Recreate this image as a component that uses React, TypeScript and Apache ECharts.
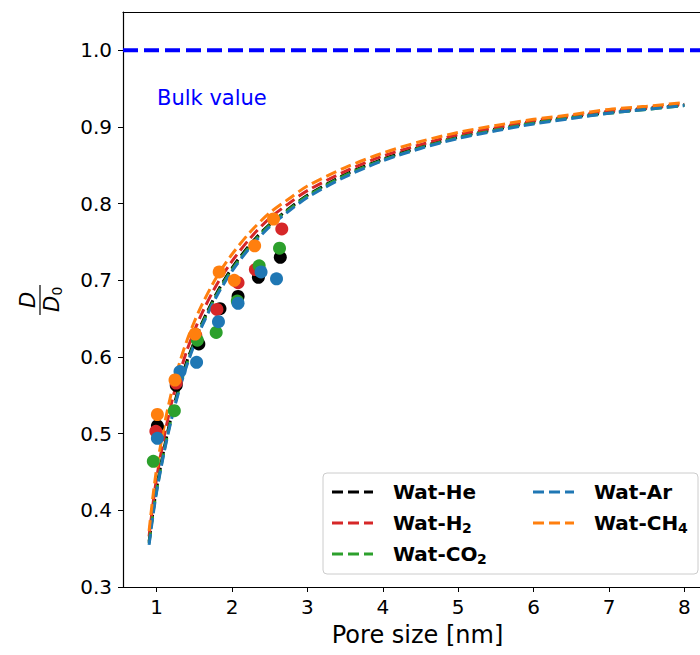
import React, { useEffect, useRef } from "react";
import * as echarts from "echarts";

// Pore size grid for the model curves [nm]
const poreSize = [0.9, 0.95, 1.0, 1.1, 1.2, 1.3, 1.4, 1.5, 1.6, 1.8, 2.0, 2.25, 2.5, 2.75, 3.0, 3.5, 4.0, 4.5, 5.0, 5.5, 6.0, 6.5, 7.0, 7.5, 8.0];

// Model curves D/D0
const curveHe = [0.359, 0.397, 0.429, 0.481, 0.525, 0.562, 0.594, 0.620, 0.644, 0.684, 0.716, 0.748, 0.773, 0.793, 0.811, 0.838, 0.858, 0.874, 0.887, 0.897, 0.906, 0.913, 0.919, 0.924, 0.929];
const curveH2 = [0.366, 0.407, 0.442, 0.496, 0.541, 0.577, 0.608, 0.634, 0.657, 0.695, 0.725, 0.756, 0.781, 0.800, 0.817, 0.842, 0.862, 0.877, 0.890, 0.899, 0.908, 0.914, 0.921, 0.925, 0.930];
const curveCO2 = [0.357, 0.395, 0.426, 0.478, 0.522, 0.559, 0.591, 0.618, 0.642, 0.682, 0.714, 0.746, 0.772, 0.792, 0.810, 0.837, 0.857, 0.873, 0.886, 0.896, 0.905, 0.912, 0.918, 0.923, 0.928];
const curveAr = [0.355, 0.392, 0.424, 0.476, 0.520, 0.557, 0.589, 0.616, 0.640, 0.680, 0.712, 0.744, 0.770, 0.790, 0.808, 0.835, 0.856, 0.872, 0.885, 0.895, 0.904, 0.911, 0.918, 0.923, 0.928];
const curveCH4 = [0.373, 0.417, 0.454, 0.510, 0.555, 0.591, 0.621, 0.646, 0.668, 0.705, 0.734, 0.764, 0.788, 0.806, 0.823, 0.847, 0.866, 0.881, 0.893, 0.902, 0.910, 0.916, 0.923, 0.927, 0.932];

// Simulation points
const ptHeX = [1.01, 1.26, 1.56, 1.84, 2.08, 2.35, 2.64];
const ptHeY = [0.510, 0.563, 0.617, 0.663, 0.679, 0.704, 0.730];
const ptH2X = [0.99, 1.26, 1.52, 1.80, 2.08, 2.31, 2.66];
const ptH2Y = [0.503, 0.566, 0.628, 0.662, 0.697, 0.714, 0.767];
const ptCO2X = [0.956, 1.235, 1.54, 1.79, 2.07, 2.36, 2.63];
const ptCO2Y = [0.464, 0.530, 0.622, 0.632, 0.673, 0.719, 0.742];
const ptArX = [1.01, 1.31, 1.53, 1.82, 2.08, 2.385, 2.59];
const ptArY = [0.494, 0.581, 0.593, 0.646, 0.670, 0.711, 0.702];
const ptCH4X = [1.01, 1.244, 1.51, 1.83, 2.03, 2.30, 2.55];
const ptCH4Y = [0.525, 0.570, 0.630, 0.711, 0.700, 0.745, 0.780];

const bulkValue = 1.0;
const xTicks = [1, 2, 3, 4, 5, 6, 7, 8];
const yTicks = [0.3, 0.4, 0.5, 0.6, 0.7, 0.8, 0.9, 1.0];
const X_MIN = 0.554;
const X_MAX = 8.207;

const FONT = "DejaVu Sans";

export default function App() {
  const ref = useRef<HTMLDivElement>(null);
  useEffect(() => {
    if (!ref.current) return;
    const chart = echarts.init(ref.current, undefined, { renderer: "svg" });
    const gases = [
      { name: "Wat-He", color: "#000000", curve: curveHe, px: ptHeX, py: ptHeY },
      { name: "Wat-H2", color: "#d62728", curve: curveH2, px: ptH2X, py: ptH2Y },
      { name: "Wat-CO2", color: "#2ca02c", curve: curveCO2, px: ptCO2X, py: ptCO2Y },
      { name: "Wat-Ar", color: "#1f77b4", curve: curveAr, px: ptArX, py: ptArY },
      { name: "Wat-CH4", color: "#ff7f0e", curve: curveCH4, px: ptCH4X, py: ptCH4Y },
    ];
    const lineSeries = gases.map((g) => ({
      type: "line",
      name: g.name,
      data: poreSize.map((x, i) => [x, g.curve[i]]),
      showSymbol: false,
      smooth: 0.3,
      lineStyle: { color: g.color, width: 3, type: [11, 5] },
      z: 2,
    }));
    const dotSeries = gases.map((g) => ({
      type: "scatter",
      name: g.name + " pts",
      data: g.px.map((x, i) => [x, g.py[i]]),
      symbolSize: 13,
      itemStyle: { color: g.color, opacity: 1 },
      z: 3,
    }));

    const legendRows = [
      { x: 332, y: 492, color: "#000000", main: "Wat-He", sub: "", subX: 0 },
      { x: 332, y: 523, color: "#d62728", main: "Wat-H", sub: "2", subX: 69 },
      { x: 332, y: 554, color: "#2ca02c", main: "Wat-CO", sub: "2", subX: 84 },
      { x: 533, y: 492, color: "#1f77b4", main: "Wat-Ar", sub: "", subX: 0 },
      { x: 533, y: 523, color: "#ff7f0e", main: "Wat-CH", sub: "4", subX: 84 },
    ];
    const legendEls: any[] = [
      {
        type: "rect",
        shape: { x: 323, y: 473, width: 375, height: 101, r: 4 },
        style: { fill: "rgba(255,255,255,0.85)", stroke: "#cccccc", lineWidth: 1 },
        z: 10,
      },
    ];
    legendRows.forEach((r) => {
      legendEls.push({
        type: "line",
        shape: { x1: r.x, y1: r.y, x2: r.x + 41, y2: r.y },
        style: { stroke: r.color, lineWidth: 3, lineDash: [11, 5] },
        z: 11,
      });
      legendEls.push({
        type: "text",
        x: r.x + 61,
        y: r.y,
        style: {
          text: r.main,
          fontFamily: FONT,
          fontWeight: "bold",
          fontSize: 20,
          fill: "#000",
          align: "left",
          verticalAlign: "middle",
        },
        z: 11,
      });
      if (r.sub) {
        legendEls.push({
          type: "text",
          x: r.x + 61 + r.subX,
          y: r.y + 5,
          style: {
            text: r.sub,
            fontFamily: FONT,
            fontWeight: "bold",
            fontSize: 14,
            fill: "#000",
            align: "left",
            verticalAlign: "middle",
          },
          z: 11,
        });
      }
    });

    const yLabel = {
      type: "group",
      x: 40,
      y: 300,
      rotation: Math.PI / 2,
      children: [
        {
          type: "text",
          x: 0,
          y: -12,
          style: { text: "D", fontFamily: FONT, fontStyle: "italic", fontSize: 21, fill: "#000", align: "center", verticalAlign: "middle" },
        },
        {
          type: "line",
          shape: { x1: -15, y1: 0, x2: 15, y2: 0 },
          style: { stroke: "#000", lineWidth: 1.2 },
        },
        {
          type: "text",
          x: -4,
          y: 12,
          style: { text: "D", fontFamily: FONT, fontStyle: "italic", fontSize: 21, fill: "#000", align: "center", verticalAlign: "middle" },
        },
        {
          type: "text",
          x: 9,
          y: 17,
          style: { text: "0", fontFamily: FONT, fontSize: 14, fill: "#000", align: "center", verticalAlign: "middle" },
        },
      ],
    };

    chart.setOption({
      animation: false,
      backgroundColor: "#ffffff",
      grid: {
        left: 123,
        top: 12,
        right: 0,
        bottom: 68,
        show: false,
      },
      xAxis: [
        {
          type: "value",
          min: X_MIN,
          max: X_MAX,
          name: "Pore size [nm]",
          nameLocation: "middle",
          nameGap: 36,
          nameTextStyle: { fontFamily: FONT, fontSize: 24, color: "#000", padding: [0, 0, 0, 12] },
          axisLine: { show: true, onZero: false, lineStyle: { color: "#000", width: 1.2 } },
          axisTick: { show: true, length: 5, lineStyle: { color: "#000", width: 1 }, customValues: xTicks },
          axisLabel: { fontFamily: FONT, fontSize: 20, color: "#000", margin: 10, customValues: xTicks, formatter: (v: number) => String(v) },
          splitLine: { show: false },
        },
        {
          type: "value",
          position: "top",
          min: X_MIN,
          max: X_MAX,
          axisLine: { show: true, onZero: false, lineStyle: { color: "#000", width: 1.2 } },
          axisTick: { show: false },
          axisLabel: { show: false },
          splitLine: { show: false },
        },
      ],
      yAxis: {
        type: "value",
        min: 0.3,
        max: 1.05,
        axisLine: { show: true, onZero: false, lineStyle: { color: "#000", width: 1.2 } },
        axisTick: { show: true, length: 5, lineStyle: { color: "#000", width: 1 }, customValues: yTicks },
        axisLabel: { fontFamily: FONT, fontSize: 20, color: "#000", margin: 11, customValues: yTicks, formatter: (v: number) => v.toFixed(1) },
        splitLine: { show: false },
      },
      series: [
        {
          type: "line",
          name: "Bulk",
          data: [[X_MIN, bulkValue], [X_MAX, bulkValue]],
          showSymbol: false,
          lineStyle: { color: "#0000ff", width: 4, type: [15, 6] },
          z: 1,
        },
        ...lineSeries,
        ...dotSeries,
      ],
      graphic: [
        {
          type: "text",
          x: 157,
          y: 98,
          style: { text: "Bulk value", fontFamily: FONT, fontSize: 21, fill: "#0000ff", align: "left", verticalAlign: "middle" },
          z: 5,
        },
        ...legendEls,
        yLabel,
      ],
    });
    return () => chart.dispose();
  }, []);
  return (
    <div
      ref={ref}
      style={{ position: "fixed", left: 0, top: 0, width: 700, height: 655, background: "#fff" }}
    />
  );
}
